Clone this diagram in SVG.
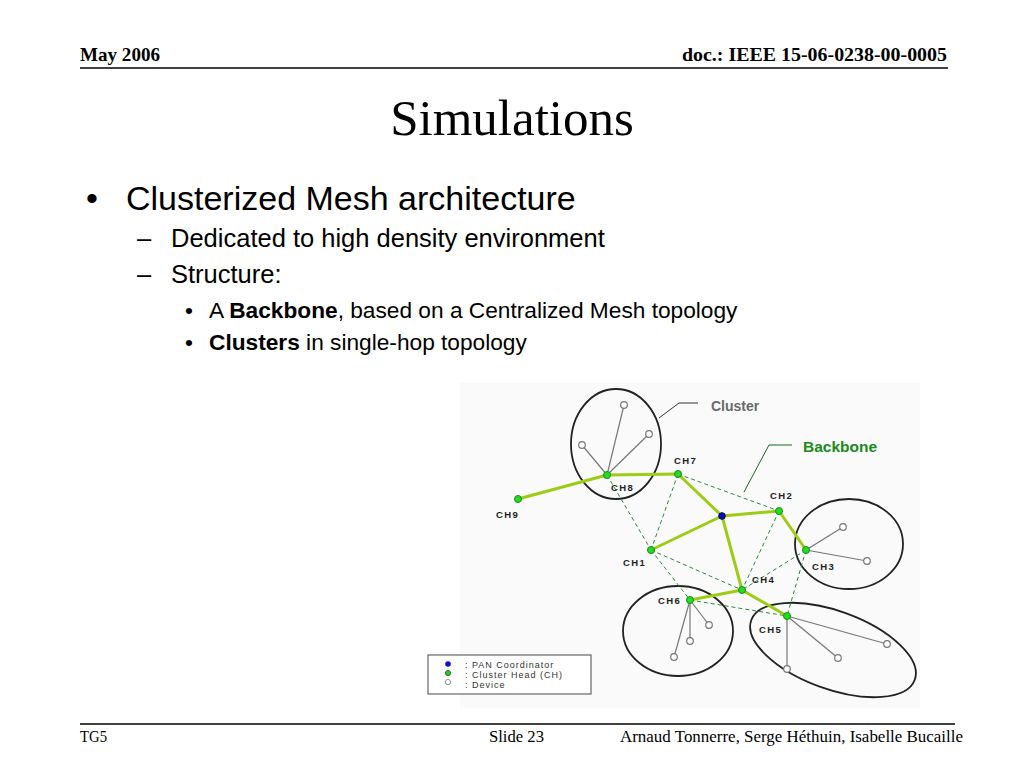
<svg xmlns="http://www.w3.org/2000/svg" width="1024" height="768" viewBox="0 0 1024 768">
<style>
.hdr{font-family:"Liberation Serif",serif;font-weight:bold;font-size:19px;fill:#000}
.ftr{font-family:"Liberation Serif",serif;font-size:17px;fill:#000}
.body{font-family:"Liberation Sans",Arial,sans-serif;fill:#000}
.bb{stroke:#9ccc14;stroke-width:3;fill:none;stroke-linecap:round}
.dl{stroke:#2a8a3a;stroke-width:1;stroke-dasharray:4 3;fill:none}
.dev{stroke:#777;stroke-width:1.2;fill:none}
.cl{stroke:#222;stroke-width:1.8;fill:none}
.ch{fill:#22dd22;stroke:#1a8a1a;stroke-width:1}
.pan{fill:#1010bb;stroke:#000066;stroke-width:1}
.dv{fill:#fff;stroke:#777;stroke-width:1.2}
.lbl{font-family:"Liberation Sans",Arial,sans-serif;font-weight:bold;font-size:9.5px;letter-spacing:1.4px;fill:#222}
.lg{font-family:"Liberation Sans",Arial,sans-serif;font-size:9px;letter-spacing:1px;fill:#333}
</style>
<rect width="1024" height="768" fill="#fff"/>
<!-- header -->
<text class="hdr" x="80" y="61" textLength="80" lengthAdjust="spacingAndGlyphs">May 2006</text>
<text class="hdr" x="682" y="61" textLength="265" lengthAdjust="spacingAndGlyphs">doc.: IEEE 15-06-0238-00-0005</text>
<line x1="80" y1="68" x2="948" y2="68" stroke="#000" stroke-width="1.5"/>
<text x="512" y="135" text-anchor="middle" font-family="Liberation Serif,serif" font-size="51" fill="#000">Simulations</text>
<!-- body text -->
<text class="body" x="86" y="210" font-size="34">•</text>
<text class="body" x="126" y="210" font-size="34">Clusterized Mesh architecture</text>
<text class="body" x="137" y="247" font-size="25.5">–</text>
<text class="body" x="171" y="247" font-size="25.5">Dedicated to high density environment</text>
<text class="body" x="137" y="283" font-size="25.5">–</text>
<text class="body" x="171" y="283" font-size="25.5">Structure:</text>
<text class="body" x="185" y="318" font-size="22.7">•</text>
<text class="body" x="209" y="318" font-size="22.7">A <tspan font-weight="bold">Backbone</tspan>, based on a Centralized Mesh topology</text>
<text class="body" x="185" y="350" font-size="22.7">•</text>
<text class="body" x="209" y="350" font-size="22.7"><tspan font-weight="bold">Clusters</tspan> in single-hop topology</text>
<!-- figure background -->
<rect x="460" y="383" width="460" height="325" fill="#fafafa"/>
<!-- clusters -->
<g id="clusters">
<ellipse class="cl" cx="616" cy="444" rx="45" ry="55"/>
<ellipse class="cl" cx="849" cy="544" rx="54" ry="45"/>
<ellipse class="cl" cx="678" cy="631" rx="55" ry="45"/>
<ellipse class="cl" cx="833" cy="650" rx="87" ry="39" transform="rotate(20 833 650)"/>
</g>
<!-- callouts -->
<g id="callouts">
<polyline points="659,418 679,403 698,403" fill="none" stroke="#333" stroke-width="1"/>
<text x="711" y="411" font-family="Liberation Sans,Arial,sans-serif" font-size="14" font-weight="bold" fill="#6a6a6a">Cluster</text>
<polyline points="744,492 769,445 792,445" fill="none" stroke="#1a6a1a" stroke-width="1"/>
<text x="803" y="452" font-family="Liberation Sans,Arial,sans-serif" font-size="15.5" font-weight="bold" fill="#1a8a1a">Backbone</text>
</g>
<!-- connectors -->
<g id="connectors">
<g class="dev-lines">
<line class="dev" x1="607" y1="475" x2="624" y2="405"/>
<line class="dev" x1="607" y1="475" x2="649" y2="434"/>
<line class="dev" x1="607" y1="475" x2="582" y2="445"/>
<line class="dev" x1="806" y1="550" x2="843" y2="527"/>
<line class="dev" x1="806" y1="550" x2="867" y2="561"/>
<line class="dev" x1="690" y1="600" x2="690" y2="641"/>
<line class="dev" x1="690" y1="600" x2="674" y2="657"/>
<line class="dev" x1="690" y1="600" x2="709" y2="625"/>
<line class="dev" x1="787" y1="616" x2="887" y2="644"/>
<line class="dev" x1="787" y1="616" x2="838" y2="658"/>
<line class="dev" x1="787" y1="616" x2="787" y2="669"/>
</g>
<g class="dashed">
<line class="dl" x1="607" y1="475" x2="651" y2="550"/>
<line class="dl" x1="678" y1="474" x2="651" y2="550"/>
<line class="dl" x1="678" y1="474" x2="779" y2="511"/>
<line class="dl" x1="779" y1="511" x2="742" y2="590"/>
<line class="dl" x1="651" y1="550" x2="742" y2="590"/>
<line class="dl" x1="651" y1="550" x2="690" y2="600"/>
<line class="dl" x1="806" y1="550" x2="742" y2="590"/>
<line class="dl" x1="806" y1="550" x2="787" y2="616"/>
<line class="dl" x1="690" y1="600" x2="787" y2="616"/>
</g>
<g class="backbone">
<line class="bb" x1="518" y1="499" x2="607" y2="475"/>
<line class="bb" x1="607" y1="475" x2="678" y2="474"/>
<line class="bb" x1="678" y1="474" x2="722" y2="516"/>
<line class="bb" x1="722" y1="516" x2="779" y2="511"/>
<line class="bb" x1="779" y1="511" x2="806" y2="550"/>
<line class="bb" x1="722" y1="516" x2="651" y2="550"/>
<line class="bb" x1="722" y1="516" x2="742" y2="590"/>
<line class="bb" x1="742" y1="590" x2="690" y2="600"/>
<line class="bb" x1="742" y1="590" x2="787" y2="616"/>
</g>
</g>
<!-- devices -->
<g id="devices">
<circle class="dv" cx="624" cy="405" r="3.3"/>
<circle class="dv" cx="649" cy="434" r="3.3"/>
<circle class="dv" cx="582" cy="445" r="3.3"/>
<circle class="dv" cx="843" cy="527" r="3.3"/>
<circle class="dv" cx="867" cy="561" r="3.3"/>
<circle class="dv" cx="690" cy="641" r="3.3"/>
<circle class="dv" cx="674" cy="657" r="3.3"/>
<circle class="dv" cx="709" cy="625" r="3.3"/>
<circle class="dv" cx="887" cy="644" r="3.3"/>
<circle class="dv" cx="838" cy="658" r="3.3"/>
<circle class="dv" cx="787" cy="669" r="3.3"/>
</g>
<!-- nodes -->
<g id="node-pan"><circle class="pan" cx="722" cy="516" r="3.3"/></g>
<g id="node-ch1"><circle class="ch" cx="651" cy="550" r="3.5"/><text class="lbl" x="623" y="566">CH1</text></g>
<g id="node-ch2"><circle class="ch" cx="779" cy="511" r="3.5"/><text class="lbl" x="770" y="499">CH2</text></g>
<g id="node-ch3"><circle class="ch" cx="806" cy="550" r="3.5"/><text class="lbl" x="812" y="570">CH3</text></g>
<g id="node-ch4"><circle class="ch" cx="742" cy="590" r="3.5"/><text class="lbl" x="752" y="583">CH4</text></g>
<g id="node-ch5"><circle class="ch" cx="787" cy="616" r="3.5"/><text class="lbl" x="759" y="633">CH5</text></g>
<g id="node-ch6"><circle class="ch" cx="690" cy="600" r="3.5"/><text class="lbl" x="658" y="604">CH6</text></g>
<g id="node-ch7"><circle class="ch" cx="678" cy="474" r="3.5"/><text class="lbl" x="674" y="464">CH7</text></g>
<g id="node-ch8"><circle class="ch" cx="607" cy="475" r="3.5"/><text class="lbl" x="611" y="491">CH8</text></g>
<g id="node-ch9"><circle class="ch" cx="518" cy="499" r="3.5"/><text class="lbl" x="496" y="518">CH9</text></g>
<!-- legend -->
<g id="legend">
<rect x="428" y="655" width="163" height="39" fill="#fff" stroke="#666" stroke-width="1.2"/>
<circle cx="448" cy="664" r="2.8" fill="#1010cc"/>
<circle cx="448" cy="673" r="2.6" fill="#22cc22" stroke="#116611" stroke-width="0.8"/>
<circle cx="448" cy="682" r="2.6" fill="#fff" stroke="#777" stroke-width="0.8"/>
<text class="lg" x="465" y="668">: PAN Coordinator</text>
<text class="lg" x="465" y="678">: Cluster Head (CH)</text>
<text class="lg" x="465" y="688">: Device</text>
</g>
<!-- footer -->
<line x1="80" y1="724" x2="955" y2="724" stroke="#000" stroke-width="1.5"/>
<text class="ftr" x="80" y="742" textLength="27" lengthAdjust="spacingAndGlyphs">TG5</text>
<text class="ftr" x="489" y="742" textLength="55" lengthAdjust="spacingAndGlyphs">Slide 23</text>
<text class="ftr" x="620" y="742" textLength="343" lengthAdjust="spacingAndGlyphs">Arnaud Tonnerre, Serge Héthuin, Isabelle Bucaille</text>
</svg>
